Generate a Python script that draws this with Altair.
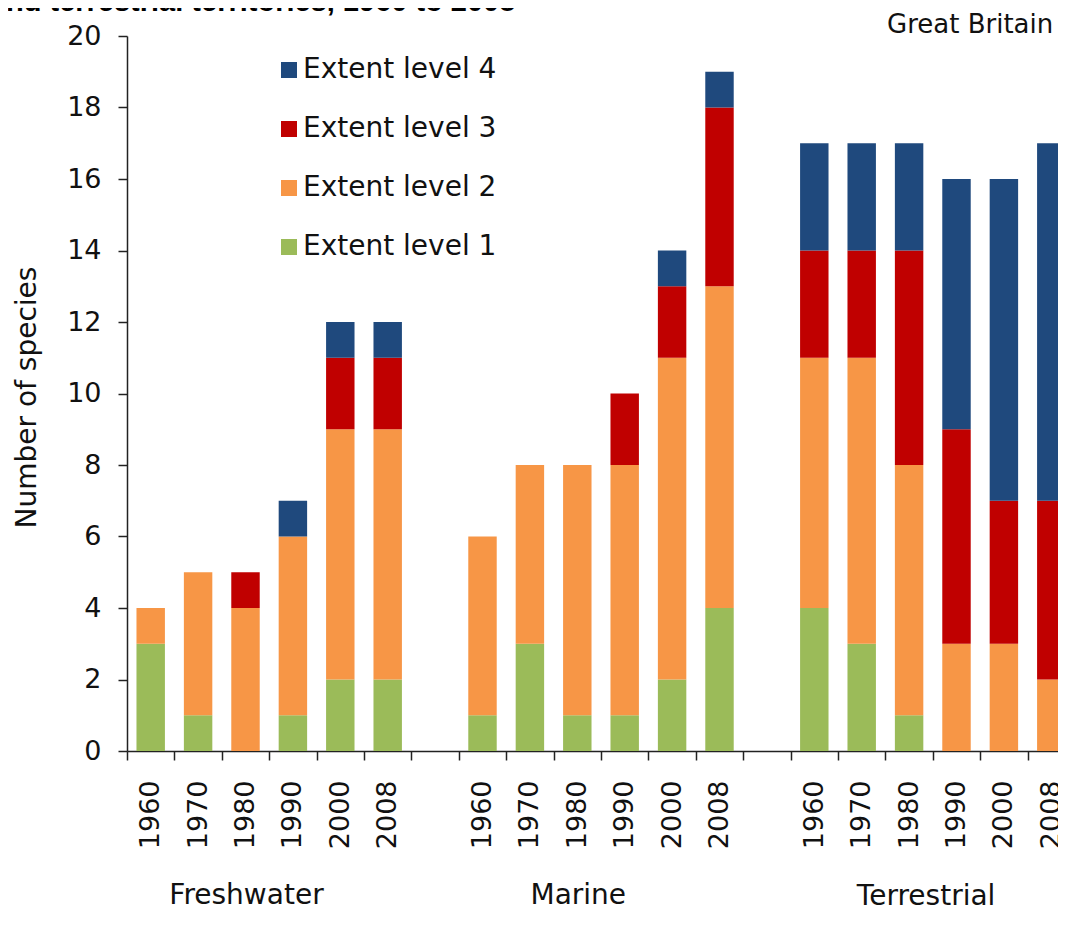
import altair as alt
import pandas as pd

# ---- data ----
years = ["1960", "1970", "1980", "1990", "2000", "2008"]
habitats = ["Freshwater", "Marine", "Terrestrial"]
prefix = {"Freshwater": "F", "Marine": "M", "Terrestrial": "T"}

level1 = {"Freshwater": [3, 1, 0, 1, 2, 2],
          "Marine": [1, 3, 1, 1, 2, 4],
          "Terrestrial": [4, 3, 1, 0, 0, 0]}
level2 = {"Freshwater": [1, 4, 4, 5, 7, 7],
          "Marine": [5, 5, 7, 7, 9, 9],
          "Terrestrial": [7, 8, 7, 3, 3, 2]}
level3 = {"Freshwater": [0, 0, 1, 0, 2, 2],
          "Marine": [0, 0, 0, 2, 2, 5],
          "Terrestrial": [3, 3, 6, 6, 4, 5]}
level4 = {"Freshwater": [0, 0, 0, 1, 1, 1],
          "Marine": [0, 0, 0, 0, 1, 1],
          "Terrestrial": [3, 3, 3, 7, 9, 10]}

levels = ["Extent level 1", "Extent level 2", "Extent level 3", "Extent level 4"]
colors = ["#9BBB59", "#F79646", "#C00000", "#1F497D"]
y_ticks = [0, 2, 4, 6, 8, 10, 12, 14, 16, 18, 20]

title_text = "nd terrestrial territories, 1960 to 2008"
region_text = "Great Britain"

# ---- build tables ----
rows = []
for h in habitats:
    for i, yr in enumerate(years):
        for k, (lvl, vals) in enumerate(zip(levels, [level1, level2, level3, level4])):
            v = vals[h][i]
            if v > 0:
                rows.append({"slot": prefix[h] + yr, "level": lvl, "order": k, "count": v})
df = pd.DataFrame(rows)

slots = []
for j, h in enumerate(habitats):
    slots += [prefix[h] + yr for yr in years]
    if j < len(habitats) - 1:
        slots.append("G" + str(j))

FONT = "DejaVu Sans"
TXT = "#111111"
x_scale = alt.Scale(domain=slots, paddingInner=0, paddingOuter=0)

bars = alt.Chart(df).mark_bar(width=alt.RelativeBandSize(0.6)).encode(
    x=alt.X("slot:N", scale=x_scale, title=None,
            axis=alt.Axis(tickBand="extent", labelAngle=270,
                          labelExpr="datum.label[0] == 'G' ? '' : substring(datum.label, 1)",
                          labelFont=FONT, labelFontSize=27, labelColor=TXT,
                          labelPadding=20, tickSize=9, tickColor="#222222", tickWidth=1.5,
                          domainColor="#222222", domainWidth=1.5, labelOverlap=False,
                          grid=False)),
    y=alt.Y("count:Q", stack="zero",
            scale=alt.Scale(domain=[0, 20], nice=False),
            axis=alt.Axis(values=y_ticks, title="Number of species", grid=False,
                          labelFont=FONT, labelFontSize=27, labelColor=TXT,
                          labelPadding=17, tickSize=9, tickColor="#222222", tickWidth=1.5,
                          domainColor="#222222", domainWidth=1.5,
                          titleFont=FONT, titleFontSize=28, titleFontWeight="normal",
                          titleColor=TXT, titleAngle=270, titleX=-100, titleY=361,
                          titleAlign="center", titleBaseline="middle")),
    color=alt.Color("level:N",
                    scale=alt.Scale(domain=levels[::-1], range=colors[::-1]),
                    legend=alt.Legend(title=None, orient="none", legendX=148, legendY=20,
                                      symbolType="square", symbolSize=256,
                                      symbolStrokeWidth=0, symbolOpacity=1,
                                      labelFont=FONT, labelFontSize=28, labelLimit=400,
                                      labelColor=TXT, labelOffset=0,
                                      rowPadding=31, padding=0)),
    order=alt.Order("order:Q", sort="ascending"),
)

group_anchor = {"Freshwater": "F1980", "Marine": "M1980", "Terrestrial": "T1980"}
group_dx = {"Freshwater": 1, "Marine": 1, "Terrestrial": 17}
group_y = {"Freshwater": 868, "Marine": 868, "Terrestrial": 869}

group_layers = []
for h in habitats:
    gdf = pd.DataFrame({"slot": [group_anchor[h]], "label": [h]})
    group_layers.append(
        alt.Chart(gdf).mark_text(font=FONT, fontSize=28, color=TXT,
                                 align="center", baseline="alphabetic", dx=group_dx[h]).encode(
            x=alt.X("slot:N", scale=x_scale),
            y=alt.value(group_y[h]),
            text="label:N",
        )
    )

region = alt.Chart(pd.DataFrame({"t": [region_text]})).mark_text(
    font=FONT, fontSize=26, color=TXT, align="left", baseline="alphabetic").encode(
    x=alt.value(760), y=alt.value(-3), text="t:N")

title = alt.Chart(pd.DataFrame({"t": [title_text]})).mark_text(
    font="Liberation Sans", fontWeight="bold", fontSize=29, color="#000000",
    align="left", baseline="alphabetic").encode(
    x=alt.value(-121), y=alt.value(-25), text="t:N")

chart = alt.layer(bars, *group_layers, region, title).properties(
    width=948, height=715,
    padding={"left": 119, "top": 28, "right": -17, "bottom": 161},
    autosize=alt.AutoSizeParams(type="none"),
    background="white",
).configure_view(stroke=None)

chart.save("out.html", embed_options={"renderer": "svg", "actions": False})
